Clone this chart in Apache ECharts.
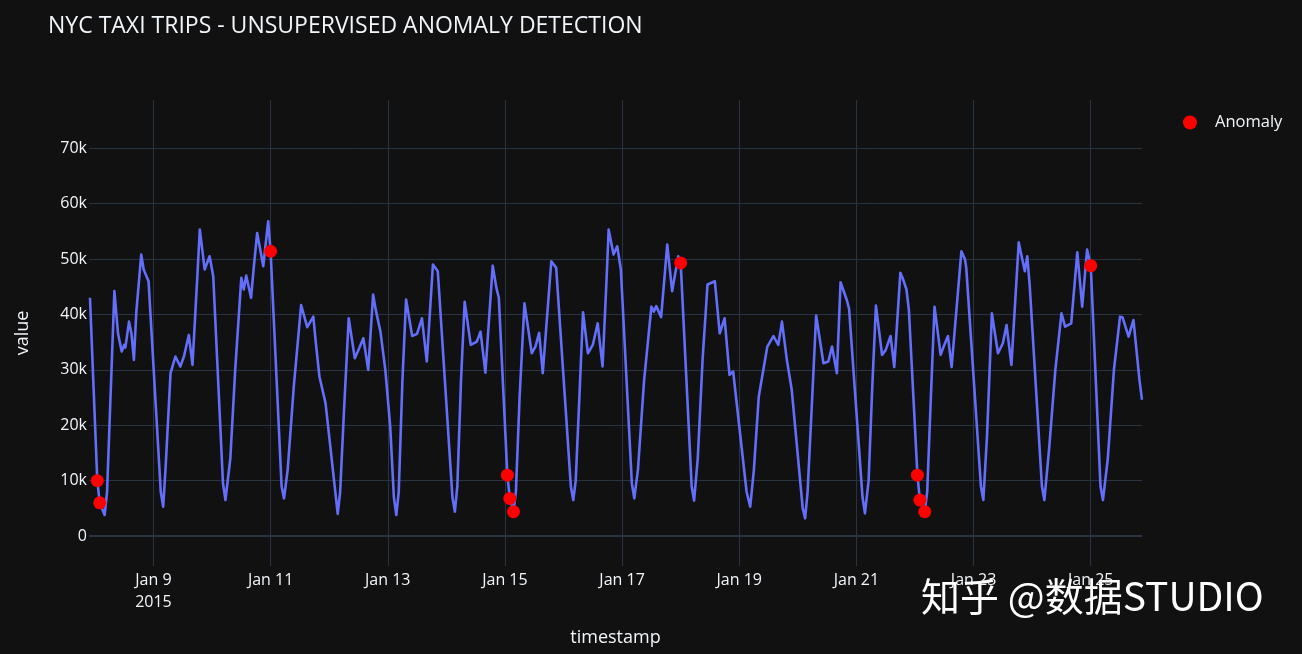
<!DOCTYPE html>
<html>
<head>
<meta charset="utf-8">
<script src="https://cdn.jsdelivr.net/npm/echarts@6/dist/echarts.min.js"></script>
<style>
html,body{margin:0;padding:0;background:#111111;}
#chart{width:1302px;height:654px;}
</style>
</head>
<body>
<div id="chart"></div>
<script>
// Time of each reading, in hours after 2015-01-08 00:00 (UTC)
const hoursAfterJan8 = [
 -2.0,1.0,2.0,4.0,5.0,8.0,9.5,11.0,12.0,12.5,14.0,15.0,16.0,17.0,19.0,20.0,22.0,27.0,28.0,29.0,
 31.0,33.0,35.0,36.5,38.5,40.0,42.0,43.0,45.0,47.0,48.5,52.5,53.5,55.5,57.5,60.0,61.0,62.0,64.0,65.0,
 66.5,69.0,71.0,72.0,76.5,77.5,79.0,81.5,84.5,87.0,89.5,90.5,92.0,94.5,96.5,99.5,100.5,102.0,104.0,106.5,
 108.0,110.0,112.0,114.0,115.0,117.0,119.0,121.0,122.5,123.5,124.5,126.0,127.5,130.0,132.0,134.0,136.0,138.5,140.5,146.5,
 147.5,148.5,150.0,151.5,154.0,156.5,158.0,160.0,163.0,164.5,165.5,169.0,170.0,171.5,172.5,174.0,176.0,179.0,180.5,182.0,
 183.5,187.0,189.0,195.0,196.0,197.0,198.5,200.0,202.0,204.0,206.0,208.0,209.5,210.5,212.5,214.0,215.5,220.0,221.0,222.5,
 225.0,228.0,229.0,230.0,232.0,234.5,236.5,239.0,240.0,244.5,245.5,247.0,249.0,251.0,254.0,256.0,258.0,260.0,261.5,267.0,
 268.5,270.0,272.0,275.5,278.0,280.0,281.5,283.5,285.5,290.0,291.0,292.0,294.0,295.5,298.5,300.5,302.0,304.0,305.5,308.0,
 309.0,314.5,315.5,317.0,318.5,320.0,322.5,324.0,326.0,327.5,330.0,331.0,332.5,333.5,337.0,338.0,340.0,341.0,342.5,344.0,
 346.5,348.0,349.5,351.0,355.0,356.5,357.0,363.0,364.0,365.5,367.5,370.0,372.0,373.5,375.5,378.5,381.0,382.0,383.0,388.0,
 389.0,391.0,393.5,396.0,397.5,400.0,402.5,404.5,406.5,408.0,412.0,413.0,415.0,417.5,420.0,421.0,423.5,425.5,428.0,429.0
];
// Taxi trips in each reading
const tripValues = [
 43000,10000,6000,3800,8000,44200,36500,33300,34500,34000,38700,36500,31800,40500,50800,48100,46000,8000,5300,12500,
 29400,32400,30600,32400,36300,30900,47000,55300,48100,50500,46900,9500,6500,14000,30000,46600,44500,47000,43000,48000,
 54700,48700,56800,51400,9000,6800,12000,27000,41700,37700,39600,35000,28800,24000,16000,4000,8000,22000,39300,32100,
 33600,35700,30000,43600,41000,36900,30000,19800,7000,3800,8000,28000,42700,36100,36500,39300,31500,49000,47800,7000,
 4400,9000,28000,42300,34500,35100,36900,29500,48800,44800,43000,11000,6800,4400,8000,25000,42000,33000,34200,36700,
 29400,49600,48400,9000,6500,10000,25000,40400,33000,34500,38400,30600,45000,55300,50800,52300,48100,9500,6800,12000,
 28000,41400,40500,41500,39500,52600,44200,50500,49300,9000,6400,14000,32000,45400,46000,36600,39300,29100,29700,8000,
 5300,12000,25200,34200,36100,34500,38700,31800,26400,5000,3200,8000,26000,39800,31200,31500,34200,29400,45800,42700,
 41000,7000,4100,10000,27000,41600,32700,33600,36100,30500,47500,46500,44500,40800,11000,6500,4400,8000,25000,41400,
 32700,34500,36100,30500,51400,49900,48400,9000,6500,18000,40200,33000,34800,38100,30900,53000,47800,50500,45200,9000,
 6500,16000,30000,40200,37800,38400,51200,41400,51700,48800,9000,6500,14000,30000,39600,39500,36000,39000,28000,24600
];
// Detected anomalies
const anomalyHours = [1.0, 2.0, 72.0, 169.0, 170.0, 171.5, 240.0, 337.0, 338.0, 340.0, 408.0];
const anomalyValues = [10000, 6000, 51400, 11000, 6800, 4400, 49300, 11000, 6500, 4400, 48800];
// Axis ticks
const xTickDaysOfJanuary = [9, 11, 13, 15, 17, 19, 21, 23, 25];
const yTickValues = [0, 10000, 20000, 30000, 40000, 50000, 60000, 70000];

const HOUR = 3600 * 1000;
const BASE = Date.UTC(2015, 0, 8, 0, 0);
const toTime = h => BASE + h * HOUR;

const lineData = hoursAfterJan8.map((h, i) => [toTime(h), tripValues[i]]);
const anomalyData = anomalyHours.map((h, i) => [toTime(h), anomalyValues[i]]);
const xTicks = xTickDaysOfJanuary.map(d => Date.UTC(2015, 0, d));

const FONT = "'Open Sans', sans-serif";
const TXT = '#f2f5fa';
const GRID = '#283442';

const chart = echarts.init(document.getElementById('chart'), null, {renderer: 'canvas'});
chart.setOption({
  backgroundColor: '#111111',
  animation: false,
  textStyle: {fontFamily: FONT},
  title: {
    text: 'NYC TAXI TRIPS - UNSUPERVISED ANOMALY DETECTION',
    left: 43, top: 10,
    textStyle: {color: TXT, fontSize: 23, fontWeight: 'normal', fontFamily: FONT}
  },
  legend: {
    data: ['Anomaly'],
    left: 1178, top: 109,
    icon: 'circle',
    itemWidth: 14, itemHeight: 14,
    textStyle: {color: TXT, fontSize: 16.5, fontFamily: FONT, padding: [0, 0, 0, 13]}
  },
  grid: {left: 89, right: 160, top: 100, bottom: 88, containLabel: false, outerBoundsMode: 'none'},
  xAxis: {
    type: 'value',
    min: toTime(-2.4),
    max: toTime(429.0),
    name: 'timestamp',
    nameLocation: 'middle',
    nameGap: 63,
    nameTextStyle: {color: TXT, fontSize: 18, fontFamily: FONT},
    axisLine: {show: false},
    axisTick: {show: false, customValues: xTicks},
    axisLabel: {
      customValues: xTicks,
      color: TXT, fontSize: 16, fontFamily: FONT, margin: 3, lineHeight: 22,
      hideOverlap: false,
      formatter: function (v) {
        const d = new Date(v);
        const s = 'Jan ' + d.getUTCDate();
        return d.getUTCDate() === 9 ? s + '\n2015' : s;
      }
    },
    splitLine: {show: true, lineStyle: {color: GRID, width: 1}}
  },
  yAxis: {
    type: 'value',
    min: -5400,
    max: 78700,
    name: 'value',
    nameLocation: 'middle',
    nameGap: 57,
    nameTextStyle: {color: TXT, fontSize: 18, fontFamily: FONT},
    axisLine: {show: false},
    axisTick: {show: false, customValues: yTickValues},
    axisLabel: {
      customValues: yTickValues,
      color: TXT, fontSize: 16, fontFamily: FONT, margin: 2,
      formatter: v => v === 0 ? '0' : (v / 1000) + 'k'
    },
    splitLine: {show: true, lineStyle: {color: GRID, width: 1}}
  },
  series: [
    {
      name: 'value',
      type: 'line',
      data: lineData,
      showSymbol: false,
      symbol: 'none',
      lineStyle: {color: '#636efa', width: 2.6, join: 'round'},
      itemStyle: {color: '#636efa'},
      z: 2,
      markLine: {
        silent: true, symbol: 'none', label: {show: false},
        lineStyle: {color: GRID, width: 2, type: 'solid'},
        data: [{yAxis: 0}],
        animation: false
      }
    },
    {
      name: 'Anomaly',
      type: 'scatter',
      data: anomalyData,
      symbol: 'circle',
      symbolSize: 13,
      itemStyle: {color: '#ff0000', opacity: 1},
      z: 3
    }
  ],
  graphic: [{
    type: 'text',
    left: 921, top: 577,
    z: 100,
    style: {
      text: '知乎 @数据STUDIO',
      fill: '#ffffff',
      font: "39px 'Noto Sans CJK SC'"
    }
  }]
});
</script>
</body>
</html>
